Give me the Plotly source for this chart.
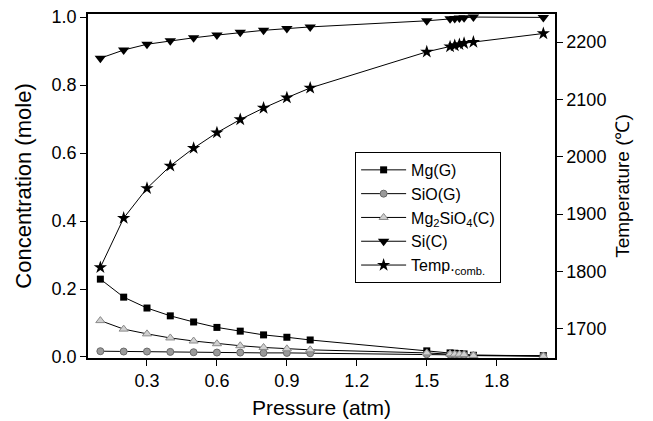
import plotly.graph_objects as go

# Pressure points (atm)
pressure = [0.1, 0.2, 0.3, 0.4, 0.5, 0.6, 0.7, 0.8, 0.9, 1.0,
            1.5, 1.6, 1.62, 1.64, 1.66, 1.7, 2.0]

# Equilibrium concentrations (mole)
mg_g = [0.229, 0.176, 0.144, 0.121, 0.103, 0.087, 0.076, 0.065, 0.058, 0.050,
        0.018, 0.012, 0.011, 0.010, 0.009, 0.005, 0.004]
sio_g = [0.017, 0.016, 0.016, 0.015, 0.014, 0.013, 0.013, 0.012, 0.012, 0.011,
         0.008, 0.007, 0.007, 0.006, 0.006, 0.004, 0.003]
mg2sio4_c = [0.107, 0.082, 0.068, 0.056, 0.047, 0.039, 0.033, 0.028, 0.024, 0.021,
             0.012, 0.009, 0.008, 0.008, 0.007, 0.004, 0.002]
si_c = [0.879, 0.903, 0.920, 0.930, 0.939, 0.947, 0.955, 0.961, 0.966, 0.971,
        0.989, 0.995, 0.996, 0.997, 0.998, 1.000, 0.999]

# Combustion temperature (°C)
temp_comb = [1807, 1893, 1945, 1984, 2015, 2042, 2065, 2085, 2103, 2120,
             2183, 2192, 2194, 2196, 2198, 2200, 2215]

x_ticks = [0.3, 0.6, 0.9, 1.2, 1.5, 1.8]
y_ticks = [0.0, 0.2, 0.4, 0.6, 0.8, 1.0]
t_ticks = [1700, 1800, 1900, 2000, 2100, 2200]

FONT = "Liberation Sans, Arial, sans-serif"
line_style = dict(color="black", width=1)

fig = go.Figure()
fig.add_trace(go.Scatter(
    x=pressure, y=mg_g, name="Mg(G)", mode="lines+markers", line=line_style,
    marker=dict(symbol="square", size=7, color="black")))
fig.add_trace(go.Scatter(
    x=pressure, y=sio_g, name="SiO(G)", mode="lines+markers", line=line_style,
    marker=dict(symbol="circle", size=7, color="#9a9a9a",
                line=dict(color="#6a6a6a", width=1))))
fig.add_trace(go.Scatter(
    x=pressure, y=mg2sio4_c, name="Mg<sub>2</sub>SiO<sub>4</sub>(C)", mode="lines+markers",
    line=line_style,
    marker=dict(symbol="triangle-up", size=8, color="#d0d0d0",
                line=dict(color="#8a8a8a", width=1))))
fig.add_trace(go.Scatter(
    x=pressure, y=si_c, name="Si(C)", mode="lines+markers", line=line_style,
    marker=dict(symbol="triangle-down", size=10, color="black")))
fig.add_trace(go.Scatter(
    x=pressure, y=temp_comb, name="Temp.<sub>comb.</sub>", mode="lines+markers",
    line=line_style, yaxis="y2",
    marker=dict(symbol="star", size=10, color="black")))

axis_common = dict(
    showline=True, linecolor="black", linewidth=1.5, ticks="outside",
    ticklen=6, tickwidth=1, tickcolor="black", showgrid=False, zeroline=False,
    automargin=False,
    tickfont=dict(family=FONT, size=18, color="black"),
)

fig.update_layout(
    width=653, height=421,
    margin=dict(l=88, r=98, t=14, b=63),
    paper_bgcolor="white", plot_bgcolor="white",
    font=dict(family=FONT, size=18, color="black"),
    xaxis=dict(axis_common, range=[0.047, 2.05], tickvals=x_ticks,
               tickformat=".1f", mirror=True,
               title=dict(text="Pressure (atm)", standoff=10,
                          font=dict(family=FONT, size=21, color="black"))),
    yaxis=dict(axis_common, range=[-0.003, 1.009], tickvals=y_ticks,
               tickformat=".1f",
               title=dict(text="Concentration (mole)", standoff=14,
                          font=dict(family=FONT, size=22, color="black"))),
    yaxis2=dict(axis_common, range=[1649, 2249], tickvals=t_ticks,
                overlaying="y", side="right",
                title=dict(text="Temperature (℃)", standoff=10,
                           font=dict(family=FONT, size=19, color="black"))),
    legend=dict(x=0.572, y=0.599, xanchor="left", yanchor="top",
                bgcolor="white", bordercolor="black", borderwidth=1,
                font=dict(family=FONT, size=16), tracegroupgap=0,
                itemwidth=45),
    showlegend=True,
)

fig.write_html("out.html")
